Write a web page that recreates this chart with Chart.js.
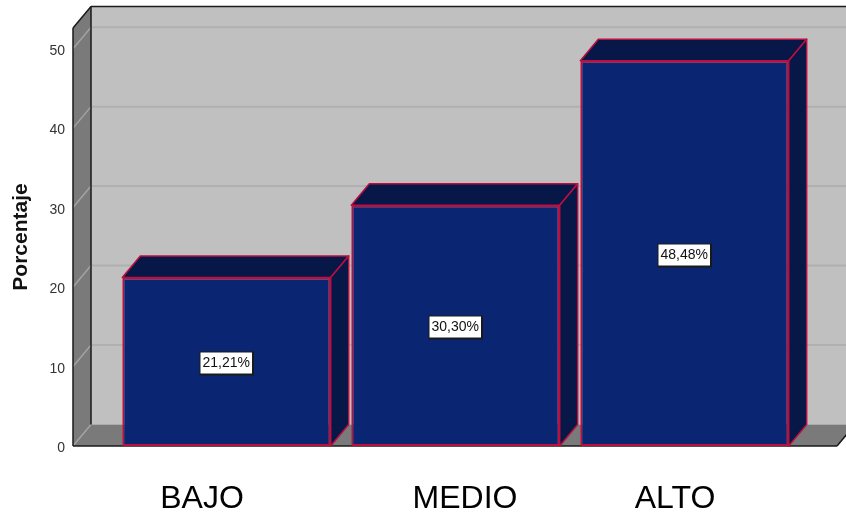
<!DOCTYPE html>
<html lang="es">
<head>
<meta charset="utf-8">
<title>Porcentaje por nivel</title>
<script src="https://cdn.jsdelivr.net/npm/chart.js@4"></script>
<style>
  html, body { margin: 0; padding: 0; background: #fff; }
  canvas { display: block; }
</style>
</head>
<body>
<canvas id="chart" width="846" height="512"></canvas>
<script>
const categories = ['BAJO', 'MEDIO', 'ALTO'];
const percentages = [21.21, 30.30, 48.48];
const yTicks = [0, 10, 20, 30, 40, 50];
const yTop = 52.6;

// Horizontal nudge of each category caption relative to its bar
const captionShift = [-24.5, 9.5, -9.5];

// Extrusion of the box and the bars, in pixels
const DEPTH_X = 18;
const DEPTH_Y = 21.5;

const FONT = '"Liberation Sans", Arial, sans-serif';
const WALL = '#C0C0C0';
const SIDE = '#7A7A7A';
const AXIS_LINE = '#1A1A1A';
const GRID_BACK = '#B0B0B0';
const GRID_SIDE = '#A3A3A3';
const BAR_FRONT = '#0A2672';
const BAR_SHADE = '#071848';
const BAR_EDGE = '#BC0F40';

function poly(ctx, pts, fill, stroke, lw) {
  ctx.beginPath();
  pts.forEach((p, i) => i ? ctx.lineTo(p[0], p[1]) : ctx.moveTo(p[0], p[1]));
  ctx.closePath();
  if (fill) { ctx.fillStyle = fill; ctx.fill(); }
  if (stroke) { ctx.strokeStyle = stroke; ctx.lineWidth = lw; ctx.lineJoin = 'round'; ctx.stroke(); }
}

function line(ctx, x1, y1, x2, y2, color, lw) {
  ctx.beginPath();
  ctx.moveTo(x1, y1);
  ctx.lineTo(x2, y2);
  ctx.strokeStyle = color;
  ctx.lineWidth = lw;
  ctx.stroke();
}

// Box behind the bars: back wall, left wall, floor and gridlines
const boxPlugin = {
  id: 'box3d',
  beforeDatasetsDraw(chart) {
    const { ctx, width, scales: { y } } = chart;
    const left = 73;
    const right = 837;
    const base = y.getPixelForValue(0);
    const top = y.getPixelForValue(yTop);
    const bx = left + DEPTH_X;
    const by = base - DEPTH_Y;
    const ty = top - DEPTH_Y;
    ctx.save();
    poly(ctx, [[bx, ty], [width + 20, ty], [width + 20, by], [bx, by]], WALL);
    poly(ctx, [[left, top], [bx, ty], [bx, by], [left, base]], SIDE);
    poly(ctx, [[left, base], [bx, by], [right + DEPTH_X, by], [right, base]], SIDE);
    y.ticks.forEach(t => {
      const py = y.getPixelForValue(t.value);
      line(ctx, left, py, bx, py - DEPTH_Y, GRID_SIDE, 1.5);
      if (t.value > 0) line(ctx, bx, py - DEPTH_Y, width, py - DEPTH_Y, GRID_BACK, 2);
      // Tick numbers sit slightly below their gridline
      ctx.font = '14px ' + FONT;
      ctx.fillStyle = '#333333';
      ctx.textAlign = 'right';
      ctx.textBaseline = 'middle';
      ctx.fillText(String(t.value), 65, py + 2.5);
    });
    line(ctx, bx, ty, width, ty, AXIS_LINE, 1.5);
    line(ctx, bx, ty, bx, by, AXIS_LINE, 1.5);
    line(ctx, left, top, bx, ty, AXIS_LINE, 1.5);
    line(ctx, left, top, left, base, AXIS_LINE, 1.5);
    line(ctx, left, base, right, base, AXIS_LINE, 1.5);
    line(ctx, right, base, right + DEPTH_X, by, AXIS_LINE, 1.5);

    // Top and side faces of each bar
    chart.getDatasetMeta(0).data.forEach(bar => {
      const l = bar.x - bar.width / 2;
      const r = bar.x + bar.width / 2;
      const t = bar.y;
      poly(ctx, [[l, t], [l + DEPTH_X, t - DEPTH_Y], [r + DEPTH_X, t - DEPTH_Y], [r, t]], BAR_SHADE, BAR_EDGE, 1.5);
      poly(ctx, [[r, t], [r + DEPTH_X, t - DEPTH_Y], [r + DEPTH_X, base - DEPTH_Y], [r, base]], BAR_SHADE, BAR_EDGE, 1.5);
    });
    ctx.restore();
  },
  afterDatasetsDraw(chart) {
    const { ctx, scales: { x, y } } = chart;
    const base = y.getPixelForValue(0);
    ctx.save();
    // Value tags centred on the bar fronts
    chart.getDatasetMeta(0).data.forEach((bar, i) => {
      const text = percentages[i].toFixed(2).replace('.', ',') + '%';
      const cy = (bar.y + base) / 2 + 1.5;
      ctx.font = '14px ' + FONT;
      const w = ctx.measureText(text).width + 5;
      const h = 22;
      const bxl = Math.round(bar.x - w / 2);
      const byt = Math.round(cy - h / 2);
      ctx.fillStyle = '#1A1A1A';
      ctx.fillRect(bxl - 0.5, byt - 0.5, w + 2, h + 2);
      ctx.fillStyle = '#FFFFFF';
      ctx.fillRect(bxl + 0.5, byt + 0.5, w - 1, h - 1);
      ctx.fillStyle = '#111111';
      ctx.textAlign = 'center';
      ctx.textBaseline = 'middle';
      ctx.fillText(text, bxl + w / 2, byt + h / 2 + 0.5);
    });
    // Category captions under the box
    ctx.font = '32px ' + FONT;
    ctx.fillStyle = '#000000';
    ctx.textAlign = 'center';
    ctx.textBaseline = 'alphabetic';
    categories.forEach((c, i) => {
      ctx.fillText(c, x.getPixelForValue(i) + captionShift[i], 507.5);
    });
    ctx.restore();
  }
};

new Chart(document.getElementById('chart'), {
  type: 'bar',
  data: {
    labels: categories,
    datasets: [{
      data: percentages,
      backgroundColor: BAR_FRONT,
      borderColor: BAR_EDGE,
      borderWidth: 2,
      borderSkipped: false,
      categoryPercentage: 1,
      barPercentage: 0.91
    }]
  },
  plugins: [boxPlugin],
  options: {
    responsive: false,
    animation: false,
    layout: { autoPadding: false, padding: { top: 28, right: 47, bottom: 0, left: 0 } },
    plugins: { legend: { display: false }, tooltip: { enabled: false } },
    scales: {
      x: {
        grid: { display: false },
        border: { display: false },
        ticks: { display: false },
        afterFit(s) { s.height = 66; }
      },
      y: {
        min: 0,
        max: yTop,
        afterBuildTicks(s) { s.ticks = yTicks.map(v => ({ value: v })); },
        afterFit(s) { s.width = 112; },
        grid: { display: false, drawTicks: false },
        border: { display: false },
        ticks: { display: false },
        title: {
          display: true,
          text: 'Porcentaje',
          color: '#111111',
          padding: { top: 9, bottom: 0 },
          font: { family: FONT, size: 21, weight: 'bold' }
        }
      }
    }
  }
});
</script>
</body>
</html>
